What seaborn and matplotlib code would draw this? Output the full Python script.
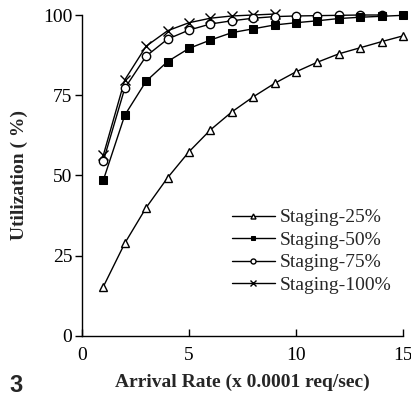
import matplotlib
matplotlib.use("Agg")
import matplotlib.pyplot as plt
import seaborn as sns
import numpy as np

sns.set_theme(style="ticks")
plt.rcParams['font.family'] = ['Liberation Serif', 'DejaVu Serif']

x_all = list(range(1, 16))
s25 = [15.4, 28.9, 40.0, 49.3, 57.4, 64.2, 69.8, 74.5, 78.7, 82.3, 85.3, 87.9, 89.8, 91.7, 93.5]
s50 = [48.6, 68.8, 79.4, 85.5, 89.6, 92.2, 94.5, 95.7, 96.9, 97.6, 98.2, 98.9, 99.3, 99.6, 99.9]
x75 = list(range(1, 15))
s75 = [54.6, 77.2, 87.2, 92.5, 95.3, 97.2, 98.2, 99.0, 99.5, 99.7, 99.8, 99.9, 100.0, 100.0]
x100 = list(range(1, 10))
s100 = [56.4, 79.8, 90.3, 95.1, 97.6, 99.0, 99.7, 100.0, 100.3]

labels = ["Staging-25%", "Staging-50%", "Staging-75%", "Staging-100%"]
xticks = [0, 5, 10, 15]
yticks = [0, 25, 50, 75, 100]

fig = plt.figure(figsize=(4.11, 3.98), dpi=100)
ax = fig.add_axes([0.1995, 0.1558, 0.781, 0.8065])

common = dict(color='black', linewidth=1.0, ax=ax, clip_on=False)
sns.lineplot(x=x_all, y=s25, marker='^', markersize=6, markerfacecolor='white',
             markeredgecolor='black', markeredgewidth=1.0, label=labels[0], zorder=3, **common)
sns.lineplot(x=x_all, y=s50, marker='s', markersize=5.5, markerfacecolor='black',
             markeredgecolor='black', label=labels[1], zorder=6, **common)
sns.lineplot(x=x75, y=s75, marker='o', markersize=6, markerfacecolor='white',
             markeredgecolor='black', markeredgewidth=1.0, label=labels[2], zorder=5, **common)
sns.lineplot(x=x100, y=s100, marker='x', markersize=6.5, markeredgecolor='black',
             markeredgewidth=1.0, label=labels[3], zorder=4, **common)

ax.set_xlim(0, 15)
ax.set_ylim(0, 100)
ax.set_xticks(xticks)
ax.set_yticks(yticks)
ax.set_xticklabels([str(t) for t in xticks])
ax.set_yticklabels([str(t) for t in yticks])
sns.despine(ax=ax)
for s in ['left', 'bottom']:
    ax.spines[s].set_color('black')
    ax.spines[s].set_linewidth(1.0)
ax.tick_params(axis='y', direction='out', length=5, width=1, colors='black', labelsize=14, pad=2)
ax.tick_params(axis='x', direction='in', length=5, width=1, colors='black', labelsize=14, pad=8)

ax.set_xlabel("Arrival Rate (x 0.0001 req/sec)", fontsize=14, fontweight='bold', labelpad=7)
ax.set_ylabel("Utilization ( %)", fontsize=14, fontweight='bold', labelpad=11)

leg = ax.legend(loc='lower right', bbox_to_anchor=(1.0, 0.095), frameon=False, fontsize=14,
                handlelength=2.2, handletextpad=0.25, labelspacing=0.25, borderaxespad=0.2,
                markerscale=0.6)

fig.text(0.022, 0.014, "3", fontsize=17, fontweight='bold', family='Liberation Sans',
         ha='left', va='baseline')

fig.savefig("out.png", dpi=100)
